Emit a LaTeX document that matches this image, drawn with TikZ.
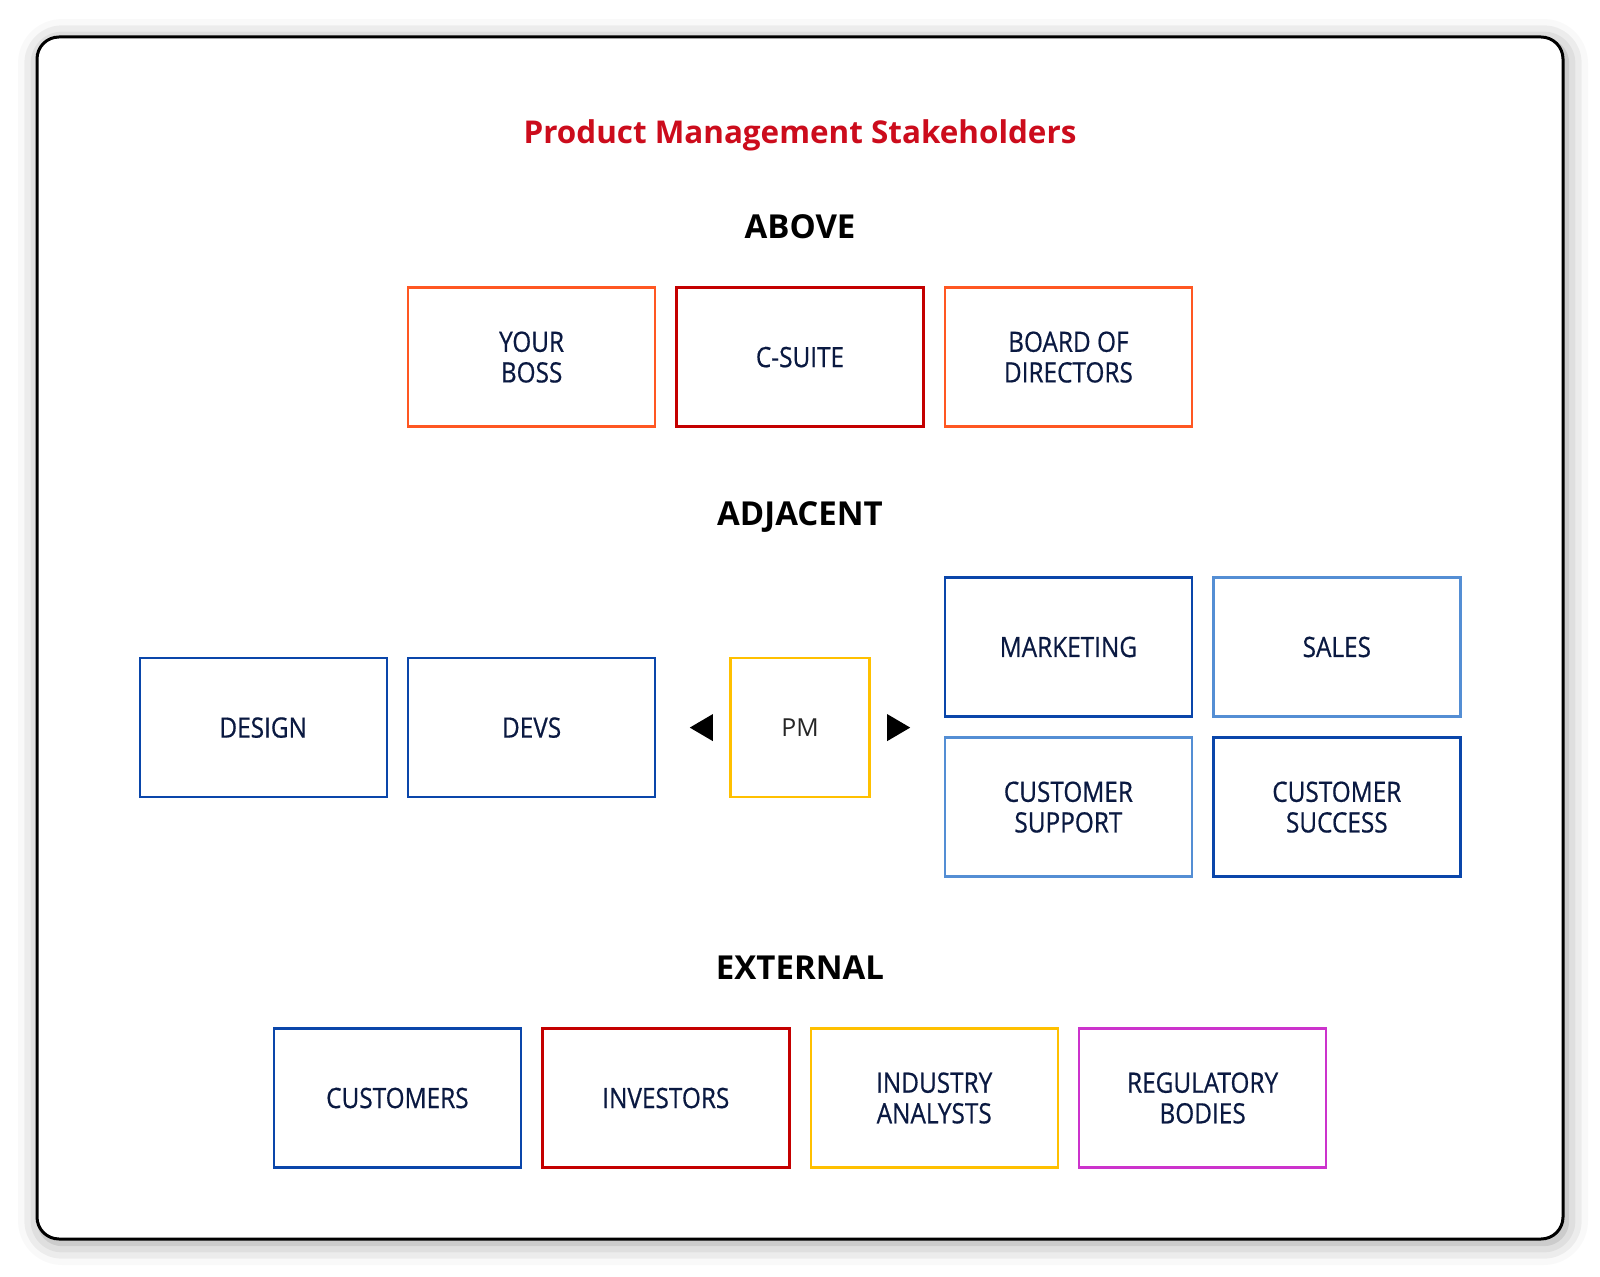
\documentclass[tikz,border=0pt]{standalone}
\usepackage{fontspec}
\setmainfont{Open Sans}
\newfontfamily\boxfont{Open Sans}[FakeStretch=0.87,FakeBold=0.6]
\usetikzlibrary{shadows.blur}
\definecolor{Tt}{RGB}{204,12,28}
\definecolor{Or}{RGB}{255,87,34}
\definecolor{Rd}{RGB}{196,0,0}
\definecolor{Bl}{RGB}{10,70,170}
\definecolor{Lb}{RGB}{84,142,212}
\definecolor{Yl}{RGB}{255,192,0}
\definecolor{Mg}{RGB}{204,51,204}
\definecolor{Nv}{RGB}{10,25,65}
\def\Bwidth{123.5pt}
\def\Bheight{69.5pt}
\def\Pitch{268.4}
\def\Xmid{800}

\begin{document}
\begin{tikzpicture}[x=0.5pt,y=-0.5pt,
    box/.style={draw=#1,line width=1.2pt,minimum width=\Bwidth,minimum height=\Bheight,
        align=center,text=Nv,font=\boxfont\fontsize{14}{15.3}\selectfont},
    heading/.style={font=\fontsize{16.5}{20}\selectfont\bfseries}]
    \path[use as bounding box] (0,0) rectangle (1600,1277);
    \draw[line width=1.5pt,rounded corners=11pt,fill=white,
        blur shadow={shadow xshift=1.5pt,shadow yshift=-2pt,shadow blur radius=11pt,shadow opacity=40}]
        (37,37) rectangle (1563,1239);
    \node[Tt,font=\fontsize{15.7}{19}\selectfont\bfseries] (title) at (\Xmid,135) {Product Management Stakeholders};
    \node[heading] (above) at (\Xmid,226.5) {ABOVE};
    \node[heading] (adjacent) at (\Xmid,517.3) {ADJACENT};
    \node[heading] (external) at (\Xmid,967.3) {EXTERNAL};
    % above
    \foreach \I/\N/\C/\T in {-1/boss/Or/{YOUR\\BOSS},0/csuite/Rd/{C-SUITE},1/board/Or/{BOARD OF\\DIRECTORS}}
        \node[box=\C] (\N) at ({\Xmid+\I*\Pitch},357.1) {\T};
    % adjacent
    \node[box=Yl,minimum width=\Bheight,text=black!85,font=\fontsize{12.4}{15}\selectfont] (pm) at (\Xmid,727.6) {PM};
    \foreach \I/\N/\T in {-2/design/DESIGN,-1/devs/DEVS}
        \node[box=Bl] (\N) at ({\Xmid+\I*\Pitch},727.6) {\T};
    \foreach \I/\Y/\N/\C/\T in {1/647/marketing/Bl/MARKETING,2/647/sales/Lb/SALES,
        1/807.1/support/Lb/{CUSTOMER\\SUPPORT},2/807.1/success/Bl/{CUSTOMER\\SUCCESS}}
        \node[box=\C] (\N) at ({\Xmid+\I*\Pitch},\Y) {\T};
    \fill ([xshift=-8.25pt]pm.west) ++(0,-13.5) -- ++(0,27) -- ++(-23,-13.5) -- cycle;
    \fill ([xshift=8.25pt]pm.east) ++(0,-13.5) -- ++(0,27) -- ++(23,-13.5) -- cycle;
    % external
    \foreach \I/\N/\C/\T in {-1.5/customers/Bl/CUSTOMERS,-0.5/investors/Rd/INVESTORS,
        0.5/analysts/Yl/{INDUSTRY\\ANALYSTS},1.5/regulators/Mg/{REGULATORY\\BODIES}}
        \node[box=\C] (\N) at ({\Xmid+\I*\Pitch},1098) {\T};
\end{tikzpicture}
\end{document}
